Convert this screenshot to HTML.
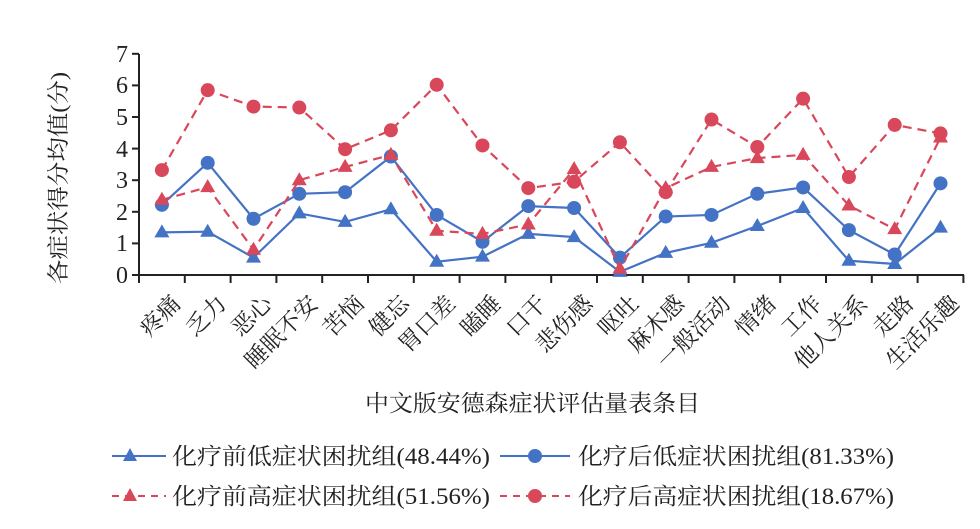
<!DOCTYPE html>
<html><head><meta charset="utf-8"><style>
html,body{margin:0;padding:0;background:#fff;}
svg{display:block;font-family:"Liberation Serif","Noto Serif CJK SC",serif;}
</style></head><body>
<svg id="s" width="980" height="529" viewBox="0 0 980 529" xmlns="http://www.w3.org/2000/svg">
<g fill="#222" font-size="24" text-anchor="end">
<text x="128" y="283">0</text><text x="128" y="251">1</text><text x="128" y="220">2</text><text x="128" y="188">3</text><text x="128" y="157">4</text><text x="128" y="125">5</text><text x="128" y="93">6</text><text x="128" y="62">7</text>
</g>
<text transform="translate(66,178) rotate(-90)" font-size="22" fill="#222" text-anchor="middle" textLength="212" lengthAdjust="spacingAndGlyphs">各症状得分均值(分)</text>
<g stroke="#222" stroke-width="2" fill="none" id="ax">
<line x1="139" y1="54" x2="139" y2="275"/><line x1="132" y1="275" x2="964" y2="275"/>
</g>
<g id="cats" font-size="23" fill="#222" text-anchor="end"></g>
<text x="365" y="411" font-size="23" fill="#222" textLength="335" lengthAdjust="spacingAndGlyphs">中文版安德森症状评估量表条目</text>
<g font-size="23" fill="#222">
<line x1="112" y1="456" x2="166" y2="456" stroke="#4472c4" stroke-width="2"/><polygon points="130,448 137,461 123,461" fill="#4472c4"/>
<text x="172" y="464" textLength="318" lengthAdjust="spacingAndGlyphs">化疗前低症状困扰组(48.44%)</text>
<line x1="500" y1="456" x2="570" y2="456" stroke="#4472c4" stroke-width="2"/><circle cx="535" cy="456" r="7" fill="#4472c4"/>
<text x="578" y="464" textLength="316" lengthAdjust="spacingAndGlyphs">化疗后低症状困扰组(81.33%)</text>
<line x1="112" y1="496" x2="166" y2="496" stroke="#d9475a" stroke-width="2" stroke-dasharray="7,6"/><polygon points="130,488 137,501 123,501" fill="#d9475a"/>
<text x="172" y="504" textLength="318" lengthAdjust="spacingAndGlyphs">化疗前高症状困扰组(51.56%)</text>
<line x1="500" y1="496" x2="570" y2="496" stroke="#d9475a" stroke-width="2" stroke-dasharray="7,6"/><circle cx="535" cy="496" r="7" fill="#d9475a"/>
<text x="578" y="504" textLength="316" lengthAdjust="spacingAndGlyphs">化疗后高症状困扰组(18.67%)</text>
</g>
</svg>
<script>
const s=document.getElementById('s'),NS='http://www.w3.org/2000/svg';
const cats=['疼痛','乏力','恶心','睡眠不安','苦恼','健忘','胃口差','瞌睡','口干','悲伤感','呕吐','麻木感','一般活动','情绪','工作','他人关系','走路','生活乐趣'];
const X=i=>139+45.8*(i+0.5),Y=v=>275-31.6*v;
const ax=document.getElementById('ax'),cg=document.getElementById('cats');
for(let i=0;i<=18;i++){const l=document.createElementNS(NS,'line');const x=139+45.8*i;l.setAttribute('x1',x);l.setAttribute('x2',x);l.setAttribute('y1',275);l.setAttribute('y2',283);ax.appendChild(l);}
for(let i=0;i<7;i++){const l=document.createElementNS(NS,'line');const y=Y(i+1);l.setAttribute('x1',132);l.setAttribute('x2',139);l.setAttribute('y1',y);l.setAttribute('y2',y);ax.appendChild(l);}
cats.forEach((c,i)=>{const t=document.createElementNS(NS,'text');const x=X(i)+8,y=293;t.setAttribute('transform',`translate(${x},${y}) rotate(-45)`);t.setAttribute('dy','17');t.textContent=c;cg.appendChild(t);});
const data=[
['#4472c4',0,'t',[1.35,1.37,0.55,1.95,1.68,2.08,0.42,0.58,1.3,1.2,0.1,0.7,1.02,1.55,2.12,0.45,0.35,1.5]],
['#4472c4',0,'c',[2.22,3.55,1.78,2.57,2.62,3.75,1.9,1.05,2.18,2.12,0.55,1.85,1.9,2.57,2.77,1.42,0.65,2.9]],
['#d9475a',1,'t',[2.38,2.78,0.8,3.0,3.42,3.8,1.4,1.3,1.6,3.35,0.2,2.75,3.42,3.7,3.8,2.2,1.45,4.35]],
['#d9475a',1,'c',[3.32,5.85,5.33,5.3,3.98,4.58,6.02,4.1,2.75,2.95,4.2,2.62,4.92,4.05,5.58,3.1,4.75,4.48]]];
data.forEach(([col,d,m,v])=>{const p=document.createElementNS(NS,'polyline');p.setAttribute('points',v.map((a,i)=>X(i)+','+Y(a)).join(' '));p.setAttribute('fill','none');p.setAttribute('stroke',col);p.setAttribute('stroke-width','2.2');if(d)p.setAttribute('stroke-dasharray','9,6');s.appendChild(p);
v.forEach((a,i)=>{let e;const x=X(i),y=Y(a);if(m=='c'){e=document.createElementNS(NS,'circle');e.setAttribute('cx',x);e.setAttribute('cy',y);e.setAttribute('r',7);}else{e=document.createElementNS(NS,'polygon');e.setAttribute('points',`${x},${y-8} ${x+7.5},${y+5} ${x-7.5},${y+5}`);}e.setAttribute('fill',col);s.appendChild(e);});});
</script>
</body></html>
